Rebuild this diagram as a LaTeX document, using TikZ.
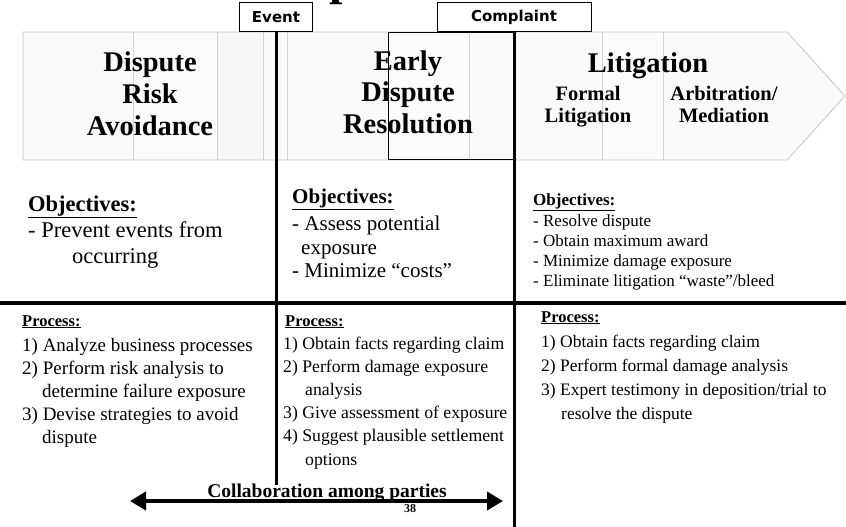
\documentclass[tikz,border=0pt]{standalone}
\usepackage{fontspec}
\setmainfont{Liberation Serif}
\newfontfamily\tagfont{DejaVu Sans}
\usepackage{tikz}
\usetikzlibrary{arrows.meta}
\newcommand{\Fs}[2]{\fontsize{#1}{#2}\selectfont}
\tikzstyle{Tag}=[rectangle, draw=black, fill=white, line width=0.8pt, minimum height=29, inner sep=0, font=\tagfont\bfseries\Fs{15}{18}]
\tikzstyle{Title}=[align=center, anchor=base, inner sep=0, font=\bfseries\Fs{28.5}{31.5}]
\tikzstyle{Sub}=[align=center, anchor=base, inner sep=0, font=\bfseries\Fs{20.5}{22}]
\tikzstyle{Txt}=[align=left, anchor=base west, inner sep=0]
\tikzstyle{Head}=[anchor=base west, inner sep=0, font=\bfseries\Fs{16.5}{18}]
\tikzstyle{Rule}=[line width=3pt]

\begin{document}
\begin{tikzpicture}[x=1pt, y=-1pt]
    \useasboundingbox (0,0) rectangle (846,527);

    % cut-off title
    \begin{scope}
    \clip (0,0) rectangle (846,527);
    \node[font=\bfseries\Fs{48}{50}, anchor=base west, inner sep=0] (title) at (329,-5.4) {p};
    \end{scope}

    % phase band
    \begin{scope}
    \clip (23,32) -- (787,32) -- (845,96) -- (787,160) -- (23,160) -- cycle;
    \foreach \a/\b/\tone in {23/133/5, 133/217/3, 217/263/6, 263/287/4, 287/388/5, 388/469/2, 469/602/5, 602/663/3, 663/846/4}
        \fill[gray!\tone] (\a,32) rectangle (\b,160);
    \foreach \a in {133,217,263,287,469,602,663}
        \draw[gray!35, line width=0.8pt] (\a,32) -- (\a,160);
    \end{scope}
    \draw[gray!45, line width=0.8pt] (23,32) -- (787,32) -- (845,96) -- (787,160) -- (23,160) -- cycle;
    \draw[line width=0.8pt] (388,32) rectangle (514,159);

    % last line of each block sits on the given point
    \path
    (150,135) node[Title] (avoid) {Dispute\\Risk\\Avoidance}
    (408,133) node[Title] (early) {Early\\Dispute\\Resolution}
    (648,73) node[Title] (litig) {Litigation}
    (588,122) node[Sub] (formal) {Formal\\Litigation}
    (724,122) node[Sub] (arbit) {Arbitration/\\Mediation};

    \path (276,17) node[Tag, minimum width=73] (event) {Event}
    (514,17) node[Tag, minimum width=154] (complaint) {Complaint};

    \coordinate (eventEnd) at (276,485);
    \coordinate (complaintEnd) at (514,527);
    \coordinate (ruleL) at (0,303);
    \coordinate (ruleR) at (846,303);
    \draw[Rule] (event) -- (eventEnd);
    \draw[Rule] (complaint) -- (complaintEnd);
    \draw[line width=4pt] (ruleL) -- (ruleR);

    % objectives
    \path (28,263) node[Txt, font=\Fs{22.5}{26}] (objA) {\underline{\textbf{Objectives:}}\\- Prevent events from\\\hspace*{44pt}occurring}
    (292,277.5) node[Txt, font=\Fs{21}{23.5}] (objB) {\underline{\textbf{Objectives:}}\\[4pt]- Assess potential\\\hspace*{9pt}exposure\\- Minimize “costs”}
    (533,286) node[Txt, font=\Fs{17}{20}] (objC) {\underline{\textbf{Objectives:}}\\[1pt]- Resolve dispute\\- Obtain maximum award\\- Minimize damage exposure\\- Eliminate litigation “waste”/bleed};

    % processes
    \path (22,326) node[Head] (procAh) {\underline{Process:}}
    (22,443) node[Txt, font=\Fs{19}{23}] (procA) {1) Analyze business processes\\2) Perform risk analysis to\\\hspace*{20pt}determine failure exposure\\3) Devise strategies to avoid\\\hspace*{20pt}dispute}
    (285,326) node[Head] (procBh) {\underline{Process:}}
    (283,465) node[Txt, font=\Fs{17.7}{23.2}] (procB) {1) Obtain facts regarding claim\\2) Perform damage exposure\\\hspace*{22pt}analysis\\3) Give assessment of exposure\\4) Suggest plausible settlement\\\hspace*{22pt}options}
    (541,322) node[Head] (procCh) {\underline{Process:}}
    (541,419) node[Txt, font=\Fs{17.5}{24}] (procC) {1) Obtain facts regarding claim\\2) Perform formal damage analysis\\3) Expert testimony in deposition/trial to\\\hspace*{20pt}resolve the dispute};

    % collaboration
    \coordinate (collabL) at (130,501);
    \coordinate (collabR) at (503,501);
    \draw[line width=4pt, {Triangle[length=16pt,width=18pt]}-{Triangle[length=16pt,width=18pt]}] (collabL) -- (collabR);
    \path (327,497) node[anchor=base, inner sep=0, font=\bfseries\Fs{19.5}{22}] (collab) {Collaboration among parties}
    (410,512) node[anchor=base, inner sep=0, font=\bfseries\Fs{12}{13}] (page) {38};
\end{tikzpicture}
\end{document}
